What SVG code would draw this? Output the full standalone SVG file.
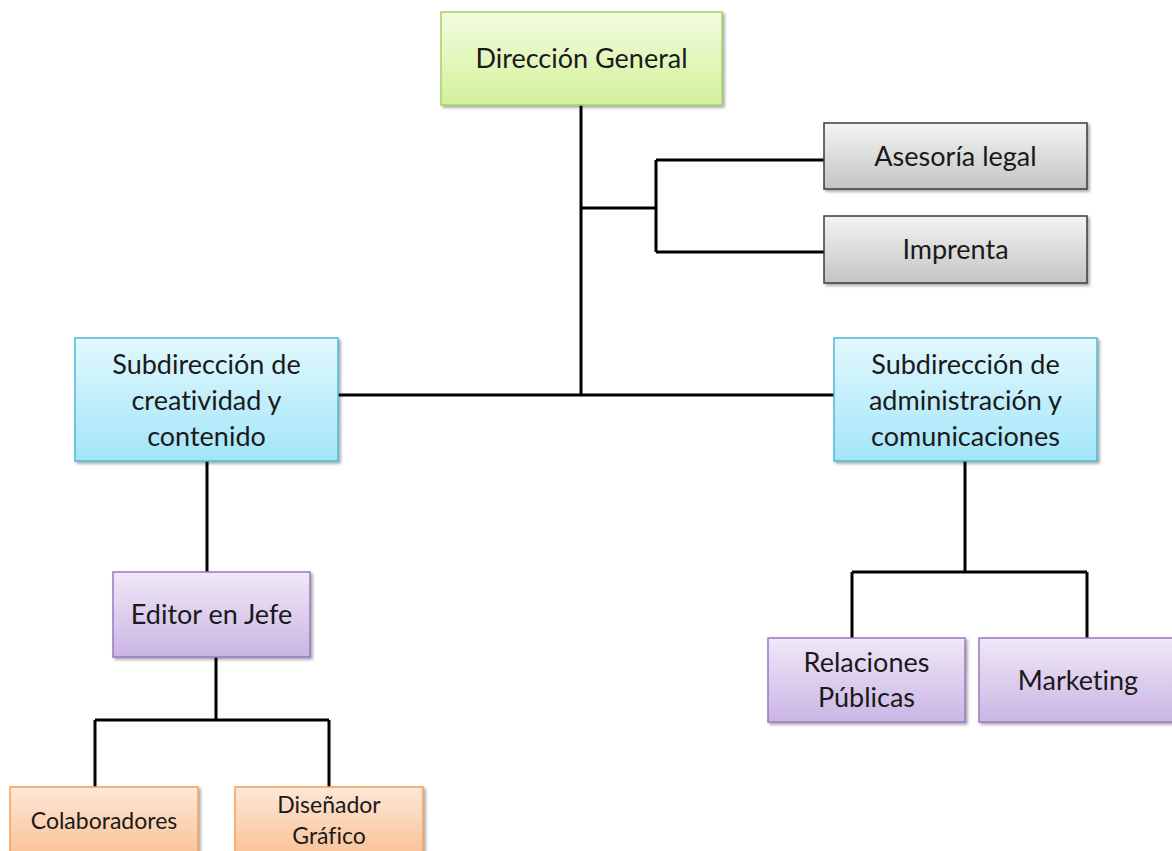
<svg xmlns="http://www.w3.org/2000/svg" width="1172" height="851" viewBox="0 0 1172 851">
<style>
text{font-family:Lato,"Open Sans","Liberation Sans",sans-serif;fill:#1a1a1a;text-anchor:middle;font-variant-ligatures:none}
.t24{font-size:27px}
.t20{font-size:23px}
.ln{stroke:#000;stroke-width:3;fill:none}
.box{stroke-width:1.5}
</style>
<defs>
<filter id="sh" x="-10%" y="-10%" width="130%" height="130%">
<feDropShadow dx="2" dy="2" stdDeviation="1.5" flood-color="#000" flood-opacity="0.35"/>
</filter>
<linearGradient id="gG" x1="0" y1="0" x2="0" y2="1"><stop offset="0" stop-color="#f3fce0"/><stop offset="1" stop-color="#d3f19a"/></linearGradient>
<linearGradient id="gY" x1="0" y1="0" x2="0" y2="1"><stop offset="0" stop-color="#f4f4f4"/><stop offset="1" stop-color="#c4c4c4"/></linearGradient>
<linearGradient id="gC" x1="0" y1="0" x2="0" y2="1"><stop offset="0" stop-color="#e2f8fe"/><stop offset="1" stop-color="#a2e5f8"/></linearGradient>
<linearGradient id="gP" x1="0" y1="0" x2="0" y2="1"><stop offset="0" stop-color="#f0e8f8"/><stop offset="1" stop-color="#cab5e4"/></linearGradient>
<linearGradient id="gO" x1="0" y1="0" x2="0" y2="1"><stop offset="0" stop-color="#fde7d6"/><stop offset="1" stop-color="#f9bc8c"/></linearGradient>
</defs>
<g id="connectors">
<path class="ln" d="M581 105V395M338 395H834M581 208H656M656 160V252M656 160H824M656 252H824"/>
<path class="ln" d="M207 461V572M216 657V720M95 720H329M95 720V787M329 720V787"/>
<path class="ln" d="M965 461V572M852 572H1087M852 572V638M1087 572V638"/>
</g>
<g id="direccion-general">
<rect class="box" x="441" y="12" width="281" height="93" fill="url(#gG)" stroke="#a6d167" filter="url(#sh)"/>
<text class="t24" x="581.5" y="68">Dirección General</text>
</g>
<g id="asesoria-legal">
<rect class="box" x="824" y="123" width="263" height="66" fill="url(#gY)" stroke="#3c3c3c" filter="url(#sh)"/>
<text class="t24" x="955.5" y="166">Asesoría legal</text>
</g>
<g id="imprenta">
<rect class="box" x="824" y="216" width="263" height="67" fill="url(#gY)" stroke="#3c3c3c" filter="url(#sh)"/>
<text class="t24" x="955.5" y="259">Imprenta</text>
</g>
<g id="sub-creatividad">
<rect class="box" x="75" y="338" width="263" height="123" fill="url(#gC)" stroke="#4bb9d9" filter="url(#sh)"/>
<text class="t24" x="206.5" y="374">Subdirección de</text>
<text class="t24" x="206.5" y="410">creatividad y</text>
<text class="t24" x="206.5" y="446">contenido</text>
</g>
<g id="sub-administracion">
<rect class="box" x="834" y="338" width="263" height="123" fill="url(#gC)" stroke="#4bb9d9" filter="url(#sh)"/>
<text class="t24" x="965.5" y="374">Subdirección de</text>
<text class="t24" x="965.5" y="410">administración y</text>
<text class="t24" x="965.5" y="446">comunicaciones</text>
</g>
<g id="editor-en-jefe">
<rect class="box" x="113" y="572" width="197" height="85" fill="url(#gP)" stroke="#9a78c2" filter="url(#sh)"/>
<text class="t24" x="211.5" y="624">Editor en Jefe</text>
</g>
<g id="relaciones-publicas">
<rect class="box" x="768" y="638" width="197" height="84" fill="url(#gP)" stroke="#9a78c2" filter="url(#sh)"/>
<text class="t24" x="866.5" y="672">Relaciones</text>
<text class="t24" x="866.5" y="707">Públicas</text>
</g>
<g id="marketing">
<rect class="box" x="979" y="638" width="197" height="84" fill="url(#gP)" stroke="#9a78c2" filter="url(#sh)"/>
<text class="t24" x="1078" y="690">Marketing</text>
</g>
<g id="colaboradores">
<rect class="box" x="10" y="787" width="188" height="80" fill="url(#gO)" stroke="#f5a05a" filter="url(#sh)"/>
<text class="t20" x="104" y="829">Colaboradores</text>
</g>
<g id="disenador-grafico">
<rect class="box" x="235" y="787" width="188" height="80" fill="url(#gO)" stroke="#f5a05a" filter="url(#sh)"/>
<text class="t20" x="329" y="813">Diseñador</text>
<text class="t20" x="329" y="844">Gráfico</text>
</g>
</svg>
